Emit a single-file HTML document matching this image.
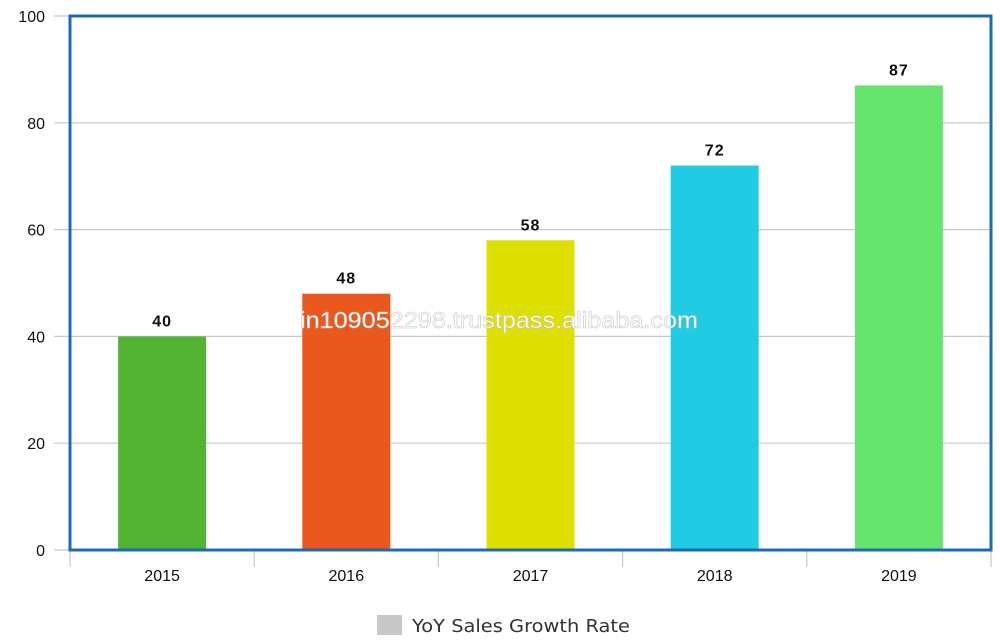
<!DOCTYPE html>
<html><head><meta charset="utf-8"><style>
html,body{margin:0;padding:0;background:#fff;width:1000px;height:640px;overflow:hidden}
text{font-family:"Liberation Sans",sans-serif}
</style></head><body>
<svg width="1000" height="640" id="chart">
<g id="grid"></g><g id="bars"></g><g id="labels"></g><g id="axes"></g>
<text x="300" y="328" font-size="23" textLength="398" lengthAdjust="spacingAndGlyphs" fill="#fff" stroke="#c8c8c8" stroke-width="0.6">in109052298.trustpass.alibaba.com</text>
<rect x="70" y="16" width="921" height="534" fill="none" stroke="#1e6bb5" stroke-width="3"/>
<g>
<rect x="377" y="615" width="25" height="20" fill="#c8c8c8"/>
<text x="412" y="632" font-size="18" fill="#333" style="font-family:'DejaVu Sans',sans-serif" textLength="218" lengthAdjust="spacingAndGlyphs">YoY Sales Growth Rate</text>
</g>
</svg>
<script>
const categories=["2015","2016","2017","2018","2019"];
const values=[40,48,58,72,87];
const colors=["#52b432","#ea581e","#dde000","#22cbe4","#66e46e"];
const yTicks=[0,20,40,60,80,100];
const L=70,R=991,T=16,B=550,NS="http://www.w3.org/2000/svg";
const y=v=>B-(v/100)*(B-T);
const step=(R-L)/categories.length;
const xc=i=>L+step*(i+0.5);
function mk(tag,attrs,parent){const e=document.createElementNS(NS,tag);for(const k in attrs)e.setAttribute(k,attrs[k]);document.getElementById(parent).appendChild(e);return e;}
yTicks.forEach(t=>{
  const g=mk('line',{x1:54,x2:R,y1:y(t),y2:y(t),stroke:'#c8c8c8','stroke-width':1.2},'grid');
  
  
  const tx=mk('text',{x:45,y:y(t)+6,'text-anchor':'end','font-size':16,fill:'#111'},'axes');
  tx.textContent=t;
  
  
});
for(let i=0;i<=categories.length;i++){
  const l=mk('line',{x1:L+step*i,x2:L+step*i,y1:B,y2:567,stroke:'#c8c8c8','stroke-width':1.2},'axes');
  
  
}
categories.forEach((c,i)=>{
  const bw=88;
  const r=mk('rect',{x:xc(i)-bw/2,y:y(values[i]),width:bw,height:B-y(values[i]),fill:colors[i]},'bars');
  
  
  const v=mk('text',{x:xc(i),y:y(values[i])-10,'text-anchor':'middle','font-size':16,'font-weight':'bold',fill:'#111','letter-spacing':'1'},'labels');
  v.textContent=values[i];
  
  
  const t=mk('text',{x:xc(i),y:581,'text-anchor':'middle','font-size':16,fill:'#111'},'labels');
  t.textContent=c;
  
  
});
</script>
</body></html>
